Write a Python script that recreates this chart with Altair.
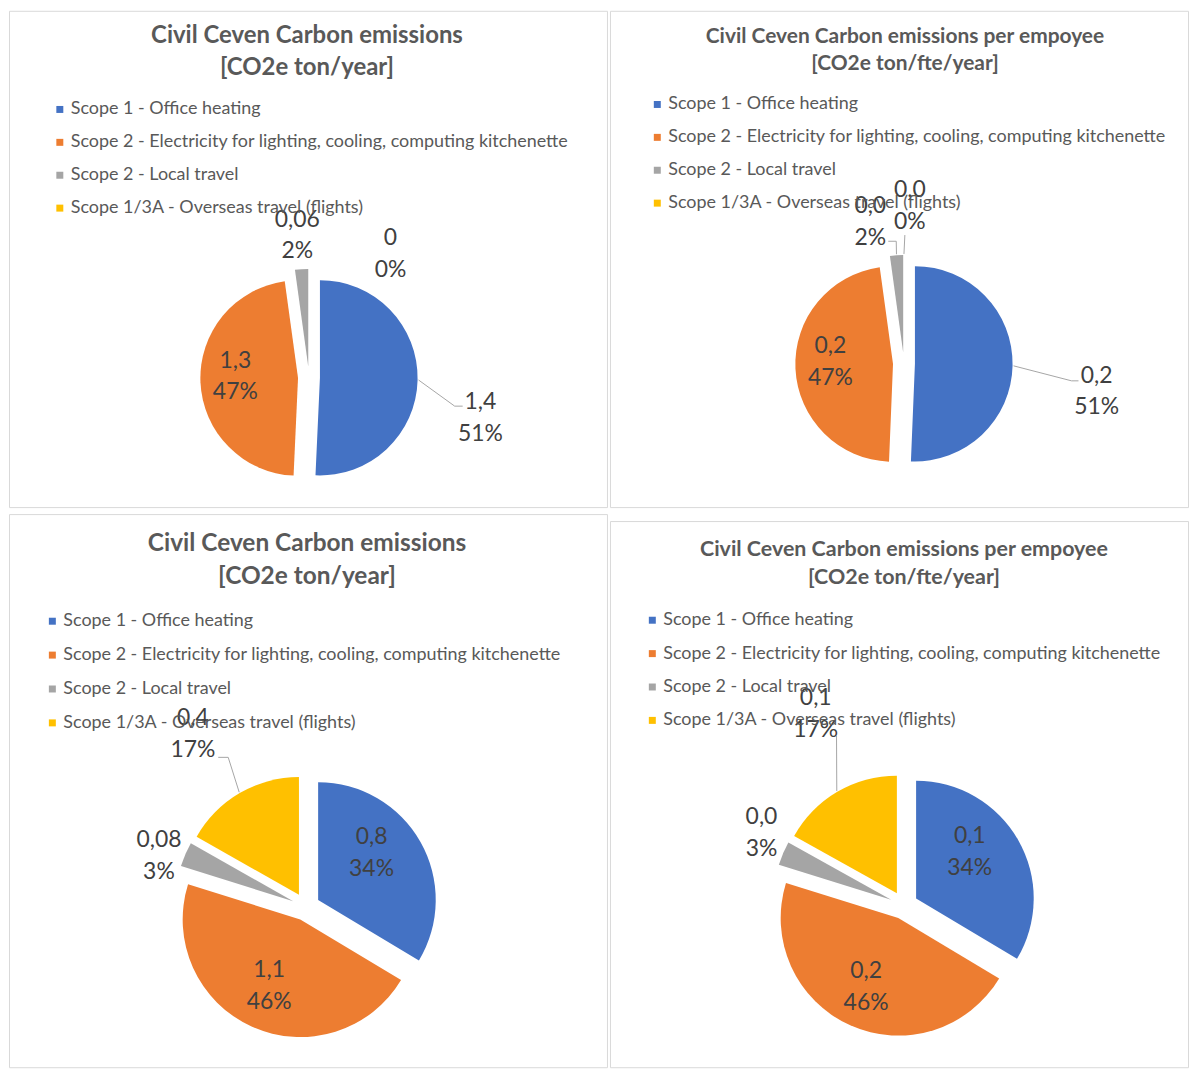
import altair as alt
import pandas as pd

# ---------------- data ----------------
categories = [
    "Scope 1 - Office heating",
    "Scope 2 - Electricity for lighting, cooling, computing kitchenette",
    "Scope 2 - Local travel",
    "Scope 1/3A - Overseas travel (flights)",
]
colors = ["#4472C4", "#ED7D31", "#A5A5A5", "#FFC000"]

emissions_top = [1.4, 1.3, 0.06, 0.0]          # CO2e ton/year
per_fte_top = [0.233, 0.217, 0.01, 0.0]        # CO2e ton/fte/year
emissions_bottom = [0.8, 1.1, 0.08, 0.4]       # CO2e ton/year
per_fte_bottom = [0.133, 0.183, 0.013, 0.067]  # CO2e ton/fte/year

title_total = ["Civil Ceven Carbon emissions", "[CO2e ton/year]"]
title_fte = ["Civil Ceven Carbon emissions per empoyee", "[CO2e ton/fte/year]"]

FONT = "Lato"
TEXT_GREY = "#595959"
LABEL_GREY = "#404040"
LEADER_GREY = "#A6A6A6"


def panel(values, fmt, title, width, height, cx, cy, r, d,
          lab_r, lab_n, lead_r, lead_n, stub,
          t_size, t_lh, t_x, t_y, lg_x, lg_y, lg_pad, lab_dy):
    df = pd.DataFrame({
        "category": categories,
        "value": values,
        "order": list(range(len(categories))),
        "lab_r": lab_r, "lab_n": lab_n,
        "lead_r": lead_r, "lead_n": lead_n, "stub": stub,
    })
    base = (
        alt.Chart(df)
        .transform_joinaggregate(total="sum(value)")
        .transform_window(cum="sum(value)", sort=[alt.SortField("order")], frame=[None, 0])
        .transform_calculate(
            t1="2*PI*datum.cum/datum.total",
            t0="2*PI*(datum.cum-datum.value)/datum.total",
        )
        .transform_calculate(mid="(datum.t0+datum.t1)/2")
        .transform_calculate(
            ax=f"{cx}+{d}*sin(datum.mid)",
            ay=f"{cy}-{d}*cos(datum.mid)",
            la="datum.mid+datum.lab_n*PI/180",
            ea="datum.mid+datum.lead_n*PI/180",
        )
        .transform_calculate(
            lx=f"{cx}+datum.lab_r*sin(datum.la)",
            ly=f"{cy}-datum.lab_r*cos(datum.la)",
            sx=f"datum.ax+{r + 1}*sin(datum.mid)",
            sy=f"datum.ay-{r + 1}*cos(datum.mid)",
            ex=f"{cx}+datum.lead_r*sin(datum.ea)",
            ey=f"{cy}-datum.lead_r*cos(datum.ea)",
            label=f"replace(format(datum.value,'{fmt}'),'.',',') + ';' + format(datum.value/datum.total,'.0%')",
        )
        .transform_calculate(ex2="datum.ex+datum.stub")
    )

    def X(f):
        return alt.X(f"{f}:Q", scale=None, axis=None)

    def Y(f):
        return alt.Y(f"{f}:Q", scale=None, axis=None)

    arcs = base.mark_arc(radius=r, strokeWidth=0).encode(
        x=X("ax"), y=Y("ay"),
        theta=alt.Theta("t0:Q", scale=None),
        theta2=alt.Theta2("t1:Q"),
        color=alt.Color(
            "category:N",
            sort=categories,
            scale=alt.Scale(domain=categories, range=colors),
            legend=alt.Legend(
                title=None, orient="none", legendX=lg_x, legendY=lg_y,
                symbolType="square", symbolSize=49, symbolStrokeWidth=0,
                symbolOpacity=1, labelFont=FONT, labelFontSize=18,
                labelColor=TEXT_GREY, rowPadding=lg_pad, labelOffset=2,
                padding=0, labelLimit=900,
            ),
        ),
    )
    leaders = base.transform_filter("datum.lead_r > 0").mark_rule(
        color=LEADER_GREY, strokeWidth=1
    ).encode(x=X("sx"), y=Y("sy"), x2="ex:Q", y2="ey:Q")
    stubs = base.transform_filter("datum.lead_r > 0 && datum.stub != 0").mark_rule(
        color=LEADER_GREY, strokeWidth=1
    ).encode(x=X("ex"), x2="ex2:Q", y=Y("ey"))
    labels = base.mark_text(
        font=FONT, fontSize=23, color=LABEL_GREY, lineBreak=";", lineHeight=32,
        align="center", baseline="middle", dy=lab_dy,
    ).encode(x=X("lx"), y=Y("ly"), text="label:N")

    title_df = pd.DataFrame({"title": [";".join(title)]})
    heading = alt.Chart(title_df).mark_text(
        font=FONT, fontSize=t_size, fontWeight="bold", color=TEXT_GREY,
        lineBreak=";", lineHeight=t_lh, align="center", baseline="middle",
    ).encode(x=alt.value(t_x), y=alt.value(t_y), text="title:N")

    return alt.layer(arcs, leaders, stubs, labels, heading).properties(
        width=width, height=height,
    )


tl = panel(emissions_top, "~g", title_total, 600, 498, 301, 368, 98, 11,
           lab_r=[176, 74, 146, 151], lab_n=[11, 5.7, -0.7, 32.8],
           lead_r=[149, 0, 0, 0], lead_n=[9.8, 0, 0, 0], stub=[8, 0, 0, 0],
           t_size=24, t_lh=32, t_x=299, t_y=25, lg_x=42, lg_y=90, lg_pad=15,
           lab_dy=-13)

tr = panel(per_fte_top, ".1f", title_fte, 580, 498, 295, 354, 98, 11,
           lab_r=[195, 74, 149, 161], lab_n=[6.2, 6.4, -9.2, 2.1],
           lead_r=[169, 0, 123, 129], lead_n=[4.7, 0, 0.3, 0.4], stub=[7, 0, -8, 0],
           t_size=21, t_lh=27, t_x=296, t_y=26, lg_x=38.5, lg_y=85, lg_pad=15,
           lab_dy=-13)

bl = panel(emissions_bottom, "~g", title_total, 600, 555, 298, 394, 118, 14,
           lab_r=[85, 88, 156, 207], lab_n=[-9.8, 0.6, -4.5, -3],
           lead_r=[0, 0, 0, 169], lead_n=[0, 0, 0, 2.75], stub=[0, 0, 0, -10],
           t_size=24.5, t_lh=33, t_x=299, t_y=30, lg_x=34.5, lg_y=98.5, lg_pad=16,
           lab_dy=-16)

br = panel(per_fte_bottom, ".1f", title_fte, 580, 548, 295, 385.5, 118, 14,
           lab_r=[86, 89, 161, 213], lab_n=[-10.3, 1.2, 4.2, 5.9],
           lead_r=[0, 0, 0, 183], lead_n=[0, 0, 0, 8.75], stub=[0, 0, 0, 0],
           t_size=21.5, t_lh=28, t_x=295, t_y=29, lg_x=33.5, lg_y=90.5, lg_pad=15.5,
           lab_dy=-14)

left = alt.vconcat(tl, bl, spacing=5).resolve_scale(color="independent").resolve_legend(color="independent")
right = alt.vconcat(tr, br, spacing=12).resolve_scale(color="independent").resolve_legend(color="independent")

chart = (
    alt.hconcat(left, right, spacing=1)
    .resolve_scale(color="independent")
    .resolve_legend(color="independent")
    .properties(padding={"left": 0, "top": 0, "right": 0, "bottom": 0}, background="white")
    .configure_view(stroke="#D9D9D9", strokeWidth=1)
)

chart.save("out.html", embed_options={"renderer": "svg", "actions": False})
